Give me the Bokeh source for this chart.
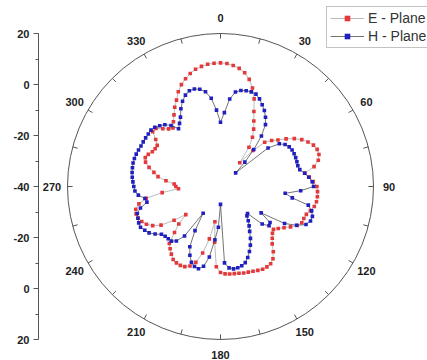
import numpy as np
from bokeh.plotting import figure
from bokeh.models import Range1d, FixedTicker, Legend, LegendItem, ColumnDataSource
from bokeh.embed import file_html
from bokeh.resources import INLINE
from bokeh.core.properties import value

# ---------------- data ----------------
angles = list(range(0, 360, 3))

e_plane = [8.5, 8.3, 7.7, 6.9, 5.6, 3.5, 0.6, -3.2, -7.8, -11.2,
           -14.0, -17.0, -21.0, -28.0, -21.0, -15.5, -13.0, -11.0, -8.2, -5.5,
           -3.2, -1.5, -0.1, 0.6, 0.6, -0.3, -2.5, -6.5, -5.0, -3.6,
           -2.2, -1.9, -1.8, -1.9, -2.4, -3.5, -4.6, -5.0, -5.1, -6.3,
           -8.3, -10.3, -12.0, -13.3, -12.6, -11.3, -9.7, -7.1, -5.0, -3.9,
           -3.6, -3.6, -4.0, -4.4, -4.7, -4.9, -5.2, -5.4, -5.5, -5.7,
           -6.3, -8.5, -18.0, -26.0, -19.0, -13.0, -8.7, -6.6, -5.6, -5.3,
           -5.4, -5.9, -7.2, -8.6, -10.0, -14.5, -18.0, -22.5, -17.5, -12.2,
           -9.3, -7.4, -6.2, -5.4, -5.2, -5.6, -7.3, -10.5, -17.0, -23.5,
           -22.5, -21.8, -18.5, -15.2, -13.3, -11.0, -9.1, -8.4, -9.0, -10.0,
           -10.4, -10.4, -8.6, -5.8, -6.0, -8.0, -9.6, -10.4, -8.6, -6.5,
           -4.1, -2.0, 0.7, 2.8, 4.4, 5.9, 7.0, 7.7, 8.2, 8.4]

h_plane = [-14.8, -11.0, -5.5, -2.5, -1.5, -1.1, -1.0, -1.2, -2.4, -4.0,
           -5.6, -7.6, -10.0, -14.5, -20.5, -26.5, -32.0, -16.0, -11.5, -9.8,
           -8.9, -8.5, -8.4, -8.4, -8.5, -8.6, -8.2, -6.6, -5.2, -4.0,
           -3.5, -8.5, -14.5, -11.5, -4.8, -3.0, -2.1, -2.2, -3.3, -6.5,
           -11.0, -21.0, -16.0, -15.5, -18.0, -25.0, -24.5, -22.7, -20.9, -19.0,
           -16.5, -14.2, -12.1, -10.2, -8.6, -7.8, -7.4, -7.3, -7.9, -10.0,
           -33.0, -24.0, -19.0, -12.0, -8.0, -6.6, -7.0, -8.2, -10.5, -13.5,
           -20.0, -27.5, -16.0, -12.5, -11.2, -11.0, -10.8, -10.2, -8.3, -6.6,
           -5.7, -4.8, -4.9, -5.3, -5.7, -7.5, -10.5, -10.0, -7.6, -6.4,
           -6.0, -5.6, -5.2, -4.9, -4.7, -4.5, -4.5, -4.6, -4.8, -5.0,
           -5.0, -5.0, -5.0, -4.9, -5.3, -6.3, -7.4, -9.2, -12.0, -10.5,
           -8.6, -5.8, -3.4, -1.6, -0.5, -0.4, -1.0, -2.4, -5.2, -10.0]

radial_ticks = [-40, -20, 0, 20]
radial_minor = [-30, -10, 10]
angle_labels = list(range(0, 360, 30))
angle_ticks = list(range(0, 360, 15))

R_MIN, R_MAX = -40, 20
RADIUS_PX = 153
SCALE = RADIUS_PX / (R_MAX - R_MIN)


def polar_xy(theta_deg, db):
    rr = (np.asarray(db, dtype=float) - R_MIN) * SCALE
    t = np.deg2rad(np.asarray(theta_deg, dtype=float))
    return rr * np.sin(t), rr * np.cos(t)


def radial_pos(db):
    return round((db - R_MIN) * SCALE, 3)


# ---------------- figure ----------------
p = figure(width=427, height=360,
           x_range=Range1d(-182, 207), y_range=Range1d(-174, 186),
           output_backend="svg", toolbar_location=None,
           min_border_left=38, min_border_right=0,
           min_border_top=0, min_border_bottom=0,
           x_axis_location=None, y_axis_location="left")
p.grid.visible = False
p.outline_line_color = None
p.background_fill_color = "white"
p.border_fill_color = "white"

# left radial scale axis (-40 at centre, 20 at rim, both directions)
major_pos = sorted(set([radial_pos(v) for v in radial_ticks] + [-radial_pos(v) for v in radial_ticks]))
minor_pos = sorted([radial_pos(v) for v in radial_minor] + [-radial_pos(v) for v in radial_minor])
overrides = {}
for v in radial_ticks:
    overrides[radial_pos(v)] = str(v)
    overrides[-radial_pos(v)] = str(v)
yax = p.yaxis[0]
yax.ticker = FixedTicker(ticks=major_pos, minor_ticks=minor_pos)
yax.major_label_overrides = overrides
yax.bounds = (-RADIUS_PX, RADIUS_PX)
yax.axis_line_color = "#555555"
yax.major_tick_line_color = "#555555"
yax.minor_tick_line_color = "#555555"
yax.major_tick_out = 5
yax.major_tick_in = 0
yax.minor_tick_out = 3
yax.minor_tick_in = 0
yax.major_label_standoff = 4
yax.major_label_text_font = "Liberation Sans"
yax.major_label_text_font_style = "bold"
yax.major_label_text_font_size = "11px"
yax.major_label_text_color = "#222222"

# outer circle
p.circle(x=[0], y=[0], radius=RADIUS_PX, fill_color=None, line_color="#555555", line_width=1)

# angular ticks (inward)
tx0, ty0 = polar_xy(angle_ticks, [R_MAX] * len(angle_ticks))
tx1, ty1 = polar_xy(angle_ticks, [R_MAX - 2] * len(angle_ticks))
p.segment(x0=tx0, y0=ty0, x1=tx1, y1=ty1, line_color="#555555", line_width=1)

# angular labels
lab_db = R_MAX + 15.5 / SCALE
lx, ly = polar_xy(angle_labels, [lab_db] * len(angle_labels))
lab_src = ColumnDataSource(dict(x=lx, y=ly, t=[str(a) for a in angle_labels]))
p.text(x="x", y="y", text="t", source=lab_src,
       text_font=value("Liberation Sans"), text_font_style="bold",
       text_font_size="11px", text_color="#222222",
       text_align="center", text_baseline="middle")

# data series (closed loops)
ex, ey = polar_xy(angles + angles[:1], e_plane + e_plane[:1])
hx, hy = polar_xy(angles + angles[:1], h_plane + h_plane[:1])

e_line = p.line(ex, ey, line_color="#a8a8a8", line_width=0.8)
e_pts = p.scatter(ex[:-1], ey[:-1], marker="square", size=3.6,
                  fill_color="#e3393a", line_color=None)
h_line = p.line(hx, hy, line_color="#505050", line_width=0.8)
h_pts = p.scatter(hx[:-1], hy[:-1], marker="square", size=3.6,
                  fill_color="#2020c0", line_color=None)

legend = Legend(items=[LegendItem(label="E - Plane", renderers=[e_line, e_pts]),
                       LegendItem(label="H - Plane", renderers=[h_line, h_pts])],
                location=(288, 312))
legend.label_text_font = "Liberation Sans"
legend.label_text_font_size = "14px"
legend.label_text_color = "#333333"
legend.glyph_width = 34
legend.glyph_height = 14
legend.label_height = 14
legend.label_standoff = 4
legend.spacing = 2
legend.padding = 3
legend.margin = 0
legend.border_line_color = "#888888"
legend.border_line_width = 1
legend.background_fill_color = "white"
legend.background_fill_alpha = 1.0
p.add_layout(legend)

open("out.html", "w").write(file_html(p, INLINE))
